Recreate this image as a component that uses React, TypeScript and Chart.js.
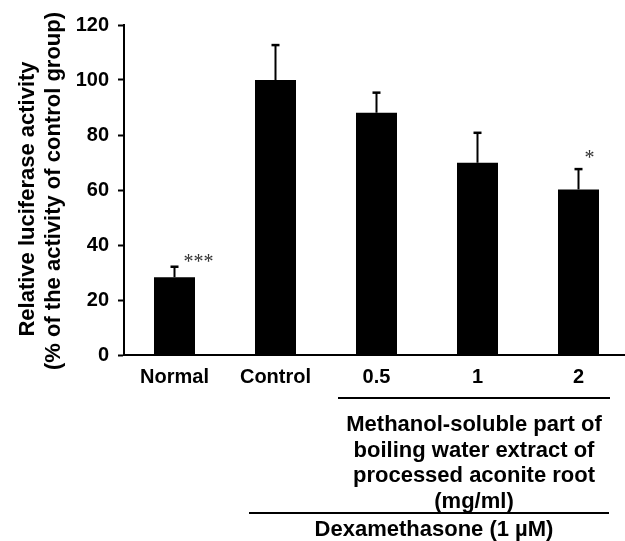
import React, { useEffect, useRef } from "react";
import { Chart, registerables } from "chart.js";

Chart.register(...registerables);

const categories = ["Normal", "Control", "0.5", "1", "2"];
const values = [28.3, 100, 88.1, 69.9, 60.2];
const errors = [3.8, 12.7, 7.3, 10.9, 7.4];
const significance = ["***", "", "", "", "*"];
const yTicks = [0, 20, 40, 60, 80, 100, 120];
const extractLabel = [
  "Methanol-soluble part of",
  "boiling water extract of",
  "processed aconite root",
  "(mg/ml)",
];
const dexLabel = "Dexamethasone (1 \u00b5M)";
const yTitle = ["Relative luciferase activity", "(% of the activity of control group)"];

const FONT = "'Liberation Sans', Arial, Helvetica, sans-serif";

const errorBarPlugin = {
  id: "errorBars",
  afterDatasetsDraw(chart: any) {
    const ctx = chart.ctx;
    const meta = chart.getDatasetMeta(0);
    const y = chart.scales.y;
    ctx.save();
    ctx.strokeStyle = "#000";
    meta.data.forEach((bar: any, i: number) => {
      const x = bar.x;
      const yb = y.getPixelForValue(values[i]);
      const yt = y.getPixelForValue(values[i] + errors[i]);
      ctx.lineWidth = 2;
      ctx.beginPath();
      ctx.moveTo(x, yb);
      ctx.lineTo(x, yt);
      ctx.stroke();
      ctx.lineWidth = 2.5;
      ctx.beginPath();
      ctx.moveTo(x - 4, yt);
      ctx.lineTo(x + 4, yt);
      ctx.stroke();
    });
    // significance marks
    const sigDx = [24, 0, 0, 0, 11];
    const sigDy = [8, 0, 0, 0, 15];
    ctx.fillStyle = "#333";
    ctx.font = "20px 'Liberation Serif', 'Times New Roman', serif";
    ctx.textAlign = "center";
    ctx.textBaseline = "alphabetic";
    meta.data.forEach((bar: any, i: number) => {
      if (!significance[i]) return;
      const yt = y.getPixelForValue(values[i] + errors[i]);
      ctx.fillText(significance[i], bar.x + sigDx[i], yt - sigDy[i] + 9.6);
    });
    ctx.restore();
  },
};

const yTitlePlugin = {
  id: "yTitle",
  afterDraw(chart: any) {
    const ctx = chart.ctx;
    const area = chart.chartArea;
    const cy = (area.top + area.bottom) / 2;
    const lineX = [28, 54];
    const lineDy = [9, 1];
    ctx.save();
    ctx.fillStyle = "#000";
    ctx.font = "bold 22px " + FONT;
    ctx.textAlign = "center";
    ctx.textBaseline = "middle";
    yTitle.forEach((t, i) => {
      ctx.save();
      ctx.translate(lineX[i], cy + lineDy[i]);
      ctx.rotate(-Math.PI / 2);
      ctx.fillText(t, 0, 0);
      ctx.restore();
    });
    ctx.restore();
  },
};

const annotationPlugin = {
  id: "groupAnnotations",
  afterDraw(chart: any) {
    const ctx = chart.ctx;
    const x = chart.scales.x;
    const c = (i: number) => x.getPixelForValue(i);
    ctx.save();
    ctx.strokeStyle = "#000";
    ctx.lineWidth = 2;
    // extract line
    const l1a = c(2) - 38.5;
    const l1b = c(4) + 31.5;
    ctx.beginPath();
    ctx.moveTo(l1a, 398);
    ctx.lineTo(l1b, 398);
    ctx.stroke();
    // dexamethasone line
    const l2a = c(1) - 26.5;
    const l2b = c(4) + 30.5;
    ctx.beginPath();
    ctx.moveTo(l2a, 513);
    ctx.lineTo(l2b, 513);
    ctx.stroke();
    ctx.fillStyle = "#000";
    ctx.font = "bold 22px " + FONT;
    ctx.textAlign = "center";
    ctx.textBaseline = "middle";
    const mid1 = (l1a + l1b) / 2;
    extractLabel.forEach((t, i) => {
      ctx.fillText(t, mid1, 425 + i * 25.7);
    });
    ctx.fillText(dexLabel, (l2a + l2b) / 2 + 5, 530);
    ctx.restore();
  },
};

export default function App() {
  const ref = useRef<HTMLCanvasElement | null>(null);
  useEffect(() => {
    if (!ref.current) return;
    const chart = new Chart(ref.current, {
      type: "bar",
      data: {
        labels: categories,
        datasets: [
          {
            data: values,
            backgroundColor: "#000",
            borderWidth: 0,
            barPercentage: 0.406,
            categoryPercentage: 1,
          },
        ],
      },
      options: {
        responsive: false,
        animation: false,
        devicePixelRatio: 1,
        layout: { padding: { top: 25, left: 0, right: 0, bottom: 0 } },
        plugins: {
          legend: { display: false },
          tooltip: { enabled: false },
        },
        scales: {
          x: {
            offset: true,
            grid: { display: false, drawTicks: false },
            border: { display: true, color: "#000", width: 2 },
            ticks: {
              color: "#000",
              padding: 10,
              font: { family: FONT, size: 20, weight: "bold" },
            },
            afterFit: (s: any) => {
              s.height = 186;
            },
          },
          y: {
            min: 0,
            max: 120,
            afterBuildTicks: (s: any) => {
              s.ticks = yTicks.map((v) => ({ value: v }));
            },
            grid: {
              drawOnChartArea: false,
              drawTicks: true,
              tickLength: 6,
              tickWidth: 2,
              tickColor: "#000",
            },
            border: { display: true, color: "#000", width: 2 },
            ticks: {
              color: "#000",
              padding: 9,
              font: { family: FONT, size: 20, weight: "bold" },
            },
            title: { display: false },
            afterFit: (s: any) => {
              s.width = 124;
            },
          },
        },
      },
      plugins: [errorBarPlugin, yTitlePlugin, annotationPlugin],
    } as any);
    return () => chart.destroy();
  }, []);
  return (
    <div
      style={{
        position: "absolute",
        left: 0,
        top: 0,
        width: 625,
        height: 541,
        overflow: "hidden",
        background: "#fff",
      }}
    >
      <canvas ref={ref} width={629} height={541} style={{ display: "block" }} />
    </div>
  );
}
